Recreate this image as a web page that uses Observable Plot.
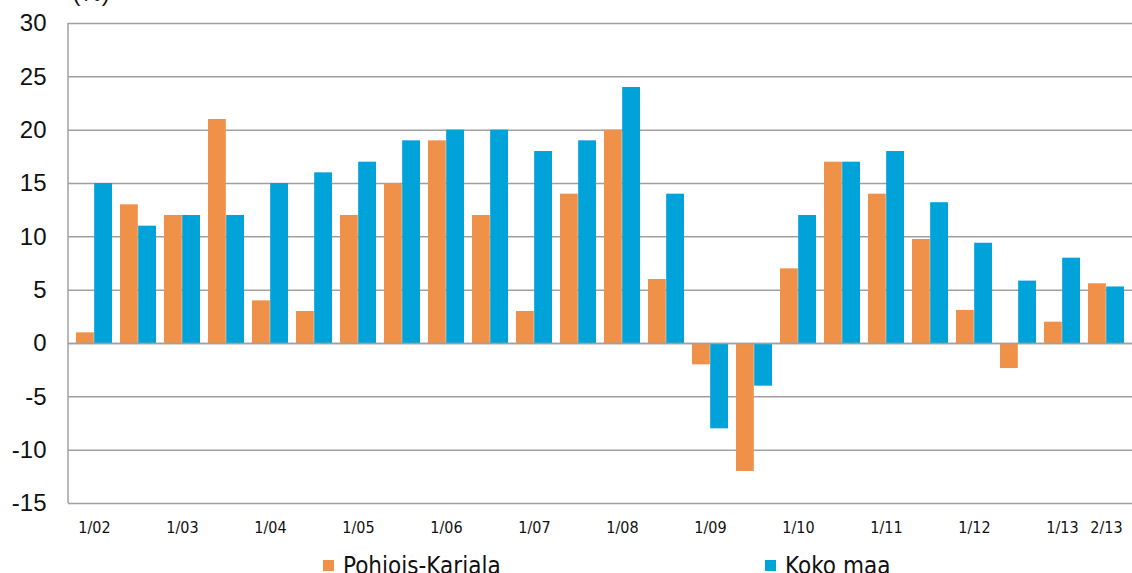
<!DOCTYPE html>
<html>
<head>
<meta charset="utf-8">
<script src="https://cdn.jsdelivr.net/npm/d3@7"></script>
<script src="https://cdn.jsdelivr.net/npm/@observablehq/plot@0.6"></script>
<style>
  html, body { margin: 0; padding: 0; background: #fff; overflow: hidden; }
  #chart { width: 1132px; }
  #legend { position: relative; width: 1132px; height: 33px; font-family: "DejaVu Sans Condensed", "DejaVu Sans", sans-serif; font-size: 24px; color: #111; }
  .item { position: absolute; top: 9px; display: flex; align-items: center; height: 33px; }
  .sw { width: 11px; height: 11px; margin-right: 9px; margin-top: 0px; }
</style>
</head>
<body>
<div id="chart"></div>
<div id="legend"></div>
<script>
const periods = ["1/02","2/02","1/03","2/03","1/04","2/04","1/05","2/05","1/06","2/06","1/07","2/07",
                 "1/08","2/08","1/09","2/09","1/10","2/10","1/11","2/11","1/12","2/12","1/13","2/13"];
const seriesNames = ["Pohjois-Karjala", "Koko maa"];
const pohjoisKarjala = [1, 13, 12, 21, 4, 3, 12, 15, 19, 12, 3, 14, 20, 6, -2, -12, 7, 17, 14, 9.75, 3.1, -2.35, 2, 5.6];
const kokoMaa        = [15, 11, 12, 12, 15, 16, 17, 19, 20, 20, 18, 19, 24, 14, -8, -4, 12, 17, 18, 13.2, 9.4, 5.85, 8, 5.3];
const shownTicks = ["1/02","1/03","1/04","1/05","1/06","1/07","1/08","1/09","1/10","1/11","1/12","1/13","2/13"];
const yTicks = [-15, -10, -5, 0, 5, 10, 15, 20, 25, 30];
const colors = ["#F0914A", "#00A3D9"];
const unitLabel = "(%)";

const pkData = periods.map((p, i) => ({period: p, value: pohjoisKarjala[i]}));
const kmData = periods.map((p, i) => ({period: p, value: kokoMaa[i]}));

const width = 1132, height = 540;
const marginLeft = 68, marginRight = 0;
const paddingInner = 0.18;
const step = (width - marginLeft - marginRight) / periods.length;
const half = step * (1 - paddingInner) / 2;

const chart = Plot.plot({
  width, height,
  marginLeft, marginRight,
  marginTop: 23, marginBottom: 37,
  style: {fontFamily: "Liberation Sans, Arial, sans-serif", background: "#fff", overflow: "visible"},
  x: {domain: periods, paddingInner, paddingOuter: paddingInner / 2, align: 0.5, label: null},
  y: {domain: [-15, 30], ticks: yTicks, label: null},
  marks: [
    Plot.ruleY(yTicks, {stroke: "#a0a0a0", strokeWidth: 1.5}),
    Plot.barY(pkData, {x: "period", y: "value", fill: colors[0], insetRight: half}),
    Plot.barY(kmData, {x: "period", y: "value", fill: colors[1], insetLeft: half}),
    Plot.ruleY([0], {stroke: "#a0a0a0", strokeWidth: 1.5}),
    Plot.axisY({ticks: yTicks, tickSize: 0, tickPadding: 22, fontSize: 24, fill: "#111", label: null,
      tickFormat: d => String(d)}),
    Plot.axisX({ticks: shownTicks, tickSize: 0, tickPadding: 18, fontSize: 16, fill: "#111", label: null,
      fontFamily: "DejaVu Sans Condensed, DejaVu Sans, sans-serif"}),
    Plot.text([unitLabel], {frameAnchor: "top-left", dx: 4, dy: -30, fontSize: 24, fill: "#111", textAnchor: "start", lineAnchor: "middle"})
  ]
});

// left axis line
const svg = d3.select(chart);
svg.append("line")
  .attr("x1", marginLeft).attr("x2", marginLeft)
  .attr("y1", 23).attr("y2", height - 37)
  .attr("stroke", "#a0a0a0").attr("stroke-width", 1.5);

document.getElementById("chart").appendChild(chart);

const legend = document.getElementById("legend");
const legendLeft = [323, 765];
seriesNames.forEach((name, i) => {
  const it = document.createElement("div");
  it.className = "item";
  it.style.left = legendLeft[i] + "px";
  it.innerHTML = `<span class="sw" style="background:${colors[i]}"></span><span>${name}</span>`;
  legend.appendChild(it);
});
</script>
</body>
</html>
